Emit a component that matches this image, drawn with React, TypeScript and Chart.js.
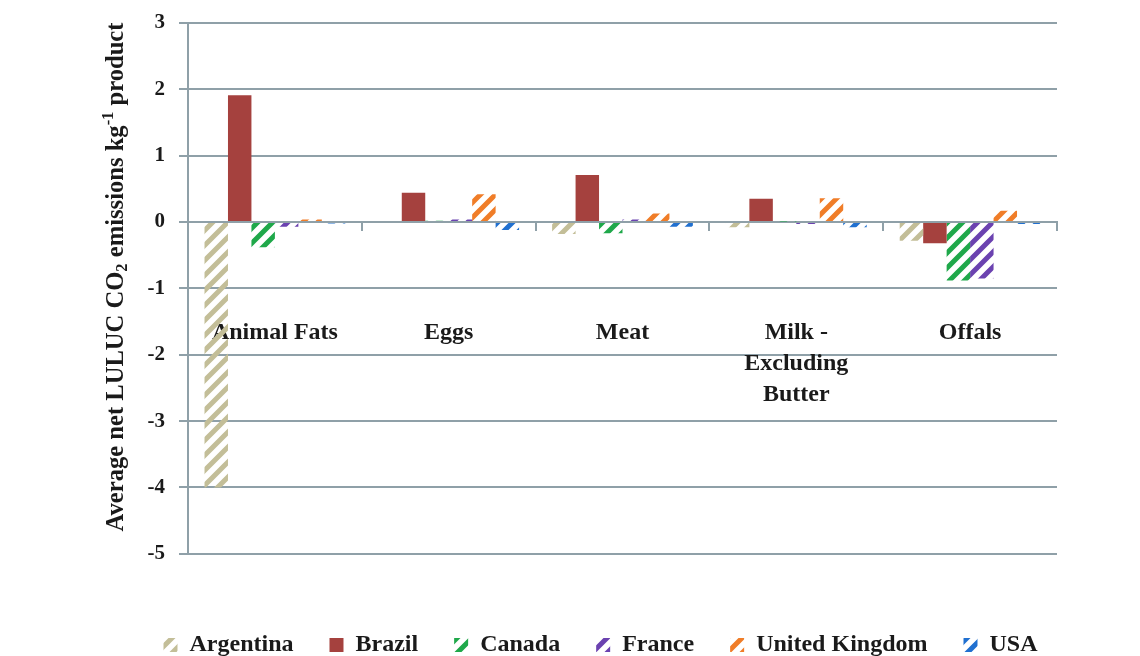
import { useEffect, useRef } from 'react';
import { Chart, registerables } from 'chart.js';

Chart.register(...registerables);

const categories: (string | string[])[] = ['Animal Fats', 'Eggs', 'Meat', ['Milk -', 'Excluding', 'Butter'], 'Offals'];
const seriesNames = ['Argentina', 'Brazil', 'Canada', 'France', 'United Kingdom', 'USA'];
const argentina = [-4.0, 0.0, -0.18, -0.08, -0.28];
const brazil = [1.91, 0.44, 0.71, 0.35, -0.32];
const canada = [-0.38, 0.02, -0.17, 0.01, -0.88];
const france = [-0.07, 0.04, 0.04, -0.03, -0.85];
const unitedKingdom = [0.04, 0.42, 0.13, 0.36, 0.17];
const usa = [-0.02, -0.12, -0.07, -0.08, -0.03];
const yMin = -5;
const yMax = 3;
const yStep = 1;
const yTitleParts = [
  { text: 'Average net LULUC CO', kind: 'normal' },
  { text: '2', kind: 'sub' },
  { text: ' emissions kg', kind: 'normal' },
  { text: '-1', kind: 'sup' },
  { text: ' product', kind: 'normal' },
];

const FONT = '"Liberation Serif", "Times New Roman", serif';
const TEXT = '#1a1a1a';
const GRID = '#8fa0a8';
const colors = ['#c3be98', '#a5413e', '#1fa84a', '#6b42b0', '#f07d28', '#2070d0'];
const patterned = [true, false, true, true, true, true];

function stripePattern(color: string): CanvasPattern | string {
  const s = 15;
  const c = document.createElement('canvas');
  c.width = s;
  c.height = s;
  const x = c.getContext('2d');
  if (!x) return color;
  x.strokeStyle = color;
  x.lineWidth = 5;
  x.beginPath();
  x.moveTo(0, s); x.lineTo(s, 0);
  x.moveTo(-s / 2, s / 2); x.lineTo(s / 2, -s / 2);
  x.moveTo(s / 2, s * 1.5); x.lineTo(s * 1.5, s / 2);
  x.stroke();
  const p = x.createPattern(c, 'repeat');
  return p || color;
}

const yTitlePlugin = {
  id: 'yTitleRich',
  afterDraw(chart: any) {
    const ctx = chart.ctx as CanvasRenderingContext2D;
    const cx = 117;
    const cy = 277;
    const big = 24.6;
    const small = 16.5;
    ctx.save();
    ctx.fillStyle = TEXT;
    ctx.textBaseline = 'middle';
    ctx.textAlign = 'left';
    let total = 0;
    for (const p of yTitleParts) {
      ctx.font = `bold ${p.kind === 'normal' ? big : small}px ${FONT}`;
      total += ctx.measureText(p.text).width;
    }
    ctx.translate(cx, cy);
    ctx.rotate(-Math.PI / 2);
    let xPos = -total / 2;
    for (const p of yTitleParts) {
      ctx.font = `bold ${p.kind === 'normal' ? big : small}px ${FONT}`;
      const dy = p.kind === 'sub' ? 6 : p.kind === 'sup' ? -8 : 0;
      ctx.fillText(p.text, xPos, dy);
      xPos += ctx.measureText(p.text).width;
    }
    ctx.restore();
  },
};

const legendShiftPlugin = {
  id: 'legendShift',
  afterLayout(chart: any) {
    const lg = chart.legend;
    if (lg) {
      lg.left += 72;
      lg.right += 72;
    }
  },
};

export default function App() {
  const ref = useRef<HTMLCanvasElement | null>(null);
  useEffect(() => {
    document.body.style.margin = '0';
    const canvas = ref.current;
    if (!canvas) return;
    const values = [argentina, brazil, canada, france, unitedKingdom, usa];
    const datasets = seriesNames.map((name, i) => {
      const bg = patterned[i] ? stripePattern(colors[i]) : colors[i];
      return {
        label: name,
        data: values[i],
        backgroundColor: bg as any,
        borderWidth: 0,
        borderColor: colors[i],
        categoryPercentage: 0.81,
        barPercentage: 1.0,
      };
    });
    const chart = new Chart(canvas, {
      type: 'bar',
      data: { labels: categories as any, datasets },
      plugins: [yTitlePlugin, legendShiftPlugin],
      options: {
        responsive: false,
        animation: false,
        events: [],
        layout: { padding: { left: 0, right: 83, top: 23, bottom: -11 } },
        scales: {
          x: {
            position: { y: 0 } as any,
            grid: {
              display: true,
              drawOnChartArea: false,
              drawTicks: true,
              tickLength: 8,
              color: GRID,
              lineWidth: 2,
              offset: true,
            },
            border: { display: true, color: GRID, width: 2 },
            ticks: {
              autoSkip: false,
              maxRotation: 0,
              minRotation: 0,
              padding: 87,
              color: TEXT,
              font: { family: FONT, size: 24, weight: 'bold', lineHeight: 1.3 },
            },
          },
          y: {
            min: yMin,
            max: yMax,
            afterFit(scale: any) {
              scale.width = 188;
              scale.paddingTop = 8;
              scale.paddingBottom = 8;
            },
            grid: {
              color: GRID,
              lineWidth: 2,
              drawTicks: true,
              tickLength: 9,
            },
            border: { display: true, color: GRID, width: 2 },
            ticks: {
              stepSize: yStep,
              padding: 14,
              color: TEXT,
              font: { family: FONT, size: 21, weight: 'bold' },
            },
          },
        },
        plugins: {
          tooltip: { enabled: false },
          legend: {
            position: 'bottom',
            title: { display: true, text: '', padding: { top: 42, bottom: 0 }, font: { size: 1 } },
            labels: {
              boxWidth: 14,
              boxHeight: 14,
              padding: 36,
              color: TEXT,
              font: { family: FONT, size: 24, weight: 'bold' },
            },
          },
        },
      } as any,
    });
    return () => chart.destroy();
  }, []);
  return (
    <div style={{ width: 1140, height: 656, background: '#fff' }}>
      <canvas ref={ref} width={1140} height={656} style={{ display: 'block' }} />
    </div>
  );
}
